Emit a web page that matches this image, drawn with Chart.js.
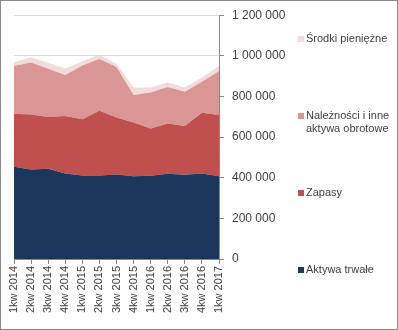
<!DOCTYPE html>
<html>
<head>
<meta charset="utf-8">
<script src="https://cdn.jsdelivr.net/npm/chart.js@4.4.1/dist/chart.umd.min.js"></script>
<style>
    html, body { margin: 0; padding: 0; background: #fff; }
    #wrap { width: 398px; height: 330px; position: relative; }
</style>
</head>
<body>
<div id="wrap"><canvas id="assetsChart"></canvas></div>
<script>
const quarters = ['1kw 2014', '2kw 2014', '3kw 2014', '4kw 2014', '1kw 2015', '2kw 2015', '3kw 2015',
    '4kw 2015', '1kw 2016', '2kw 2016', '3kw 2016', '4kw 2016', '1kw 2017'];

const aktywaTrwale = [454000, 441000, 444000, 421000, 411000, 411000, 416000, 407000, 410000, 420000, 415000, 421000, 407000];
const zapasy = [261000, 270000, 255000, 283000, 277000, 319000, 280000, 265000, 232000, 247000, 240000, 299000, 302000];
const naleznosci = [235000, 256000, 238000, 202000, 265000, 254000, 249000, 135000, 178000, 180000, 168000, 152000, 215000];
const srodki = [19000, 26000, 29000, 32000, 19000, 23000, 16000, 37000, 24000, 23000, 21000, 21000, 26000];

const yTicks = [0, 200000, 400000, 600000, 800000, 1000000, 1200000];

const seriesNames = ['Aktywa trwałe', 'Zapasy', 'Należności i inne aktywa obrotowe', 'Środki pieniężne'];
const seriesColors = ['#1b375e', '#c0504d', '#d99694', '#f2dcdb'];

function formatThousands(v) {
    return String(v).replace(/\B(?=(\d{3})+(?!\d))/g, ' ');
}

// Excel-style legend: entries spread down the right side, top entry = top series
const sideLegend = {
    id: 'sideLegend',
    afterDraw(chart) {
        const ctx = chart.ctx;
        const rows = [
            { idx: 3, lines: ['Środki pieniężne'], y: 39 },
            { idx: 2, lines: ['Należności i inne', 'aktywa obrotowe'], y: 116 },
            { idx: 1, lines: ['Zapasy'], y: 193 },
            { idx: 0, lines: ['Aktywa trwałe'], y: 270 }
        ];
        ctx.save();
        ctx.font = '11px "Liberation Sans", Arial, sans-serif';
        ctx.textBaseline = 'middle';
        rows.forEach(r => {
            ctx.fillStyle = chart.data.datasets[r.idx].backgroundColor;
            ctx.fillRect(298, r.y - 3, 6, 6);
            ctx.fillStyle = '#404040';
            r.lines.forEach((t, i) => ctx.fillText(t, 306, r.y + i * 13));
        });
        ctx.strokeStyle = '#898989';
        ctx.lineWidth = 1;
        ctx.strokeRect(0.5, 0.5, chart.width - 1, chart.height - 1);
        ctx.restore();
    }
};

const datasets = [aktywaTrwale, zapasy, naleznosci, srodki].map((data, i) => ({
    label: seriesNames[i],
    data: data,
    backgroundColor: seriesColors[i],
    borderColor: seriesColors[i],
    borderWidth: 0,
    pointRadius: 0,
    tension: 0,
    fill: i === 0 ? 'origin' : '-1'
}));

new Chart(document.getElementById('assetsChart'), {
    type: 'line',
    data: { labels: quarters, datasets: datasets },
    options: {
        responsive: true,
        maintainAspectRatio: false,
        animation: false,
        devicePixelRatio: 1,
        layout: { padding: { left: 14, top: 14, right: 109, bottom: 0 } },
        plugins: {
            legend: { display: false },
            tooltip: { enabled: false }
        },
        scales: {
            x: {
                offset: false,
                grid: { drawOnChartArea: false, drawTicks: true, tickLength: 5, tickColor: '#898989' },
                border: { color: '#898989' },
                ticks: {
                    minRotation: 90, maxRotation: 90, autoSkip: false, padding: 2,
                    color: '#404040',
                    font: { family: '"Liberation Sans", Arial, sans-serif', size: 11 }
                },
                afterFit(scale) { scale.height = 71; }
            },
            y: {
                position: 'right',
                stacked: true,
                min: 0,
                max: 1200000,
                afterBuildTicks(scale) { scale.ticks = yTicks.map(v => ({ value: v })); },
                grid: { color: '#d9d9d9', tickColor: '#898989', tickLength: 5 },
                border: { color: '#898989' },
                ticks: {
                    padding: 8,
                    color: '#404040',
                    font: { family: '"Liberation Sans", Arial, sans-serif', size: 12 },
                    callback: v => formatThousands(v)
                },
                afterFit(scale) { scale.width = 70; }
            }
        }
    },
    plugins: [sideLegend]
});
</script>
</body>
</html>
